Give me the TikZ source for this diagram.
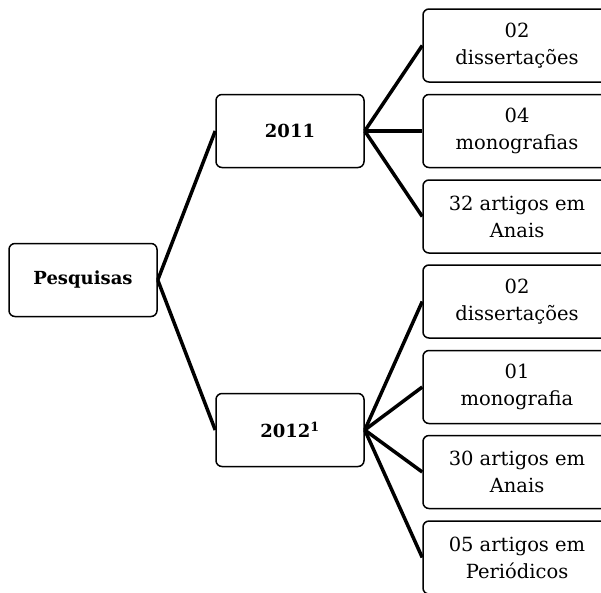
\documentclass[tikz,border=0pt]{standalone}
\usepackage{fontspec}
\setmainfont{DejaVu Serif}
\usepackage{tikz}

\tikzset{
	caixa/.style={draw,line width=1.5pt,rounded corners=6pt,align=center,
		minimum height=73pt,font=\fontsize{19.5}{27}\selectfont},
	raiz/.style={caixa,minimum width=148pt,font=\fontsize{18}{27}\selectfont\bfseries},
	ramo/.style={line width=3.5pt}
}

\begin{document}
\begin{tikzpicture}[x=1pt,y=-1pt]
	\useasboundingbox (0,0) rectangle (601,592);
% root
	\node[raiz] (pesq) at (83,280) {Pesquisas};
% years
	\node[raiz] (ano11) at (290,131) {2011};
	\node[raiz] (ano12) at (290,430) {2012\textsuperscript{1}};
% 2011 leaves
	\node[caixa,minimum width=188pt] (d11) at (517,45.5) {02\\dissertações};
	\node[caixa,minimum width=188pt] (m11) at (517,131) {04\\monografias};
	\node[caixa,minimum width=188pt] (a11) at (517,216.5) {32 artigos em\\Anais};
% 2012 leaves
	\node[caixa,minimum width=188pt] (d12) at (517,301.5) {02\\dissertações};
	\node[caixa,minimum width=188pt] (m12) at (517,387) {01\\monografia};
	\node[caixa,minimum width=188pt] (a12) at (517,472) {30 artigos em\\Anais};
	\node[caixa,minimum width=188pt] (p12) at (517,557.5) {05 artigos em\\Periódicos};

% root to years
	\draw[ramo] (pesq.east) -- (ano11.west);
	\draw[ramo] (pesq.east) -- (ano12.west);
% 2011 branches
	\draw[ramo] (ano11.east) -- (d11.west);
	\draw[ramo] (ano11.east) -- (m11.west);
	\draw[ramo] (ano11.east) -- (a11.west);
% 2012 branches
	\draw[ramo] (ano12.east) -- (d12.west);
	\draw[ramo] (ano12.east) -- (m12.west);
	\draw[ramo] (ano12.east) -- (a12.west);
	\draw[ramo] (ano12.east) -- (p12.west);
\end{tikzpicture}
\end{document}
